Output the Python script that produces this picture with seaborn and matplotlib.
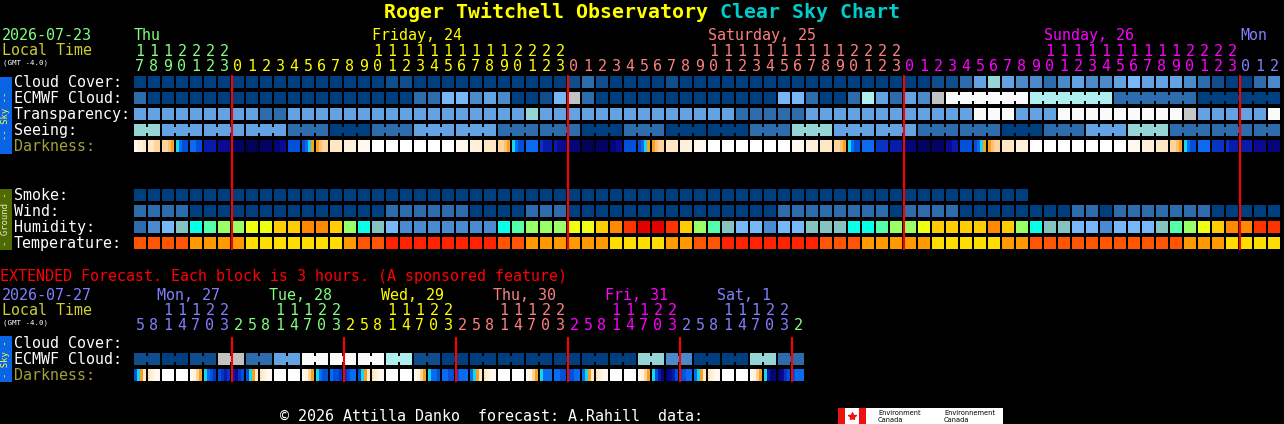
import numpy as np
import matplotlib
matplotlib.use("Agg")
import matplotlib.pyplot as plt
from matplotlib.patches import Rectangle
import seaborn as sns

# ---------------- dados ----------------
title_site = "Roger Twitchell Observatory "
title_chart = "Clear Sky Chart"
start_date = "2026-07-23"
ext_start_date = "2026-07-27"
ext_note = "EXTENDED Forecast. Each block is 3 hours. (A sponsored feature)"
footer = "\u00a9 2026 Attilla Danko  forecast: A.Rahill  data:"

day_names = ["Thu", "Friday, 24", "Saturday, 25", "Sunday, 26", "Mon"]
day_colors = ["#80FF80", "#FFFF00", "#FF8080", "#FF00FF", "#8080FF"]
day_hours = [
    [17, 18, 19, 20, 21, 22, 23],
    [0, 1, 2, 3, 4, 5, 6, 7, 8, 9, 10, 11, 12, 13, 14, 15, 16, 17, 18, 19, 20, 21, 22, 23],
    [0, 1, 2, 3, 4, 5, 6, 7, 8, 9, 10, 11, 12, 13, 14, 15, 16, 17, 18, 19, 20, 21, 22, 23],
    [0, 1, 2, 3, 4, 5, 6, 7, 8, 9, 10, 11, 12, 13, 14, 15, 16, 17, 18, 19, 20, 21, 22, 23],
    [0, 1, 2],
]

# nuvens: 0 = limpo ... X = encoberto
cloud_cover = ("0000000000" "0000000011" "0000000000" "0121000010" "0000000000"
               "0000000112" "4643323433" "4544432100" "23")
ecmwf_cloud = ("2000000000" "0000000000" "2255343001" "5820000000" "0000005520"
               "02742438XX" "XXXX777777" "2222220000" "00")
ecmwf_chunks = [1] * 58 + [6, 6, 6, 6]
# transparencia / seeing: 5 = otimo ... 0 = nublado demais
transparency = ("3333333334" "4333333333" "3333333323" "3333333333" "3334444433"
                "3333333333" "0003330000" "0000013333" "30")
seeing_vals = "2333454334454554233445432444"
seeing_chunks = [2] + [3] * 26 + [2]
# escuridao: 4 faixas por bloco
darkness = [
    "abbc", "ccdd", "ddeo", "CLBB", "LLBB", "NNNN", "DDDD",
    "FFFF", "GGGG", "FFFF", "EEDD", "BBBB", "BLCo", "oedd", "cccc", "bbbb", "aaaa",
    "WWWW", "WWWW", "WWWW", "WWWW", "WWWW", "WWWW", "aaaa", "bbbb", "cccc", "ddeo",
    "CLBB", "LLLL", "MNNN", "NDDD",
    "EEEE", "GGGG", "FFFF", "EEDD", "BBBB", "BLCo", "oedd", "cccc", "bbbb", "aaaa",
    "WWWW", "WWWW", "WWWW", "WWWW", "WWWW", "WWWW", "aaaa", "bbbb", "cccc", "ddeo",
    "CLBB", "LLLL", "MMMM", "NNNN",
    "EEEE", "FFFF", "FFFF", "DDNN", "BBBB", "BLCo", "oedd", "cccc", "bbbb", "WWWW",
    "WWWW", "WWWW", "WWWW", "WWWW", "WWWW", "WWWW", "aaaa", "bbbb", "cccc", "ddeo",
    "CLBB", "LLLL", "MMMM", "MNNN",
    "NNNN", "DDDD", "EEEE",
]
smoke = ("0000000000" "0000000000" "0000000000" "0000000000" "0000000000"
         "0000000000" "0000------" "----------" "--")
wind = ("1111000000" "0000000011" "1111000011" "1000000000" "0000001111"
        "1111011110" "0000000110" "1111111000" "00")
humidity = ("1234567788" "99AA975432" "2222225677" "7889ABCCB9" "7643323344"
            "4556778999" "9A97544332" "33346789AA" "BB")
temperature = ("ooooaaaayy" "yyyyyaoorr" "rrrrrrooaa" "aaaayyyyaa" "oorrrrrrro"
               "ooaaaaayyy" "yyaaoooooo" "oooooaaayy" "yy")

# previsao estendida (blocos de 3 h)
ext_day_names = ["Mon, 27", "Tue, 28", "Wed, 29", "Thu, 30", "Fri, 31", "Sat, 1", ""]
ext_day_colors = ["#8080FF", "#80FF80", "#FFFF00", "#FF8080", "#FF00FF", "#8080FF", "#80FF80"]
ext_day_hours = [
    [5, 8, 11, 14, 17, 20, 23],
    [2, 5, 8, 11, 14, 17, 20, 23],
    [2, 5, 8, 11, 14, 17, 20, 23],
    [2, 5, 8, 11, 14, 17, 20, 23],
    [2, 5, 8, 11, 14, 17, 20, 23],
    [2, 5, 8, 11, 14, 17, 20, 23],
    [2],
]
# ECMWF estendido: um valor a cada 6 h (2 blocos)
ext_ecmwf_vals = "101824XXX710000000630062"
ext_darkness = [
    "BCoc", "cbaa", "WWWW", "WWWW", "abdo", "CLBM", "BMNM",
    "NDMB", "BCoc", "cbaa", "WWWW", "WWWW", "abdo", "CLBB", "LBBM",
    "MBLL", "BCoc", "cbaa", "WWWW", "WWWW", "abdo", "CLLB", "LLBB",
    "BLLL", "LCoc", "cbaa", "WWWW", "WWWW", "abdo", "CLLL", "LLBB",
    "BBLL", "LCoc", "cbaa", "WWWW", "WWWW", "abdo", "CBNE", "EDNB",
    "BBLL", "LCoc", "cbaa", "WWWW", "WWWW", "abdo", "CNEE", "EDMB",
    "BLLL",
]

# ---------------- cores ----------------
cloud_colors = {"0": "#003F7F", "1": "#0F4D8D", "2": "#2C6CAC", "3": "#4A8ACA",
                "4": "#63A3E3", "5": "#77B7F7", "6": "#95D5D5", "7": "#AEEEEE",
                "8": "#C2C2C2", "X": "#FBFBFB"}
sky_colors = {"5": "#003F7F", "4": "#2C6CAC", "3": "#63A3E3", "2": "#95D5D5",
              "1": "#C7C7C7", "0": "#FAFAFA"}
dark_colors = {"W": "#FFFFFF", "a": "#FFF8EE", "b": "#FFF0DC", "c": "#FFE6C4",
               "d": "#FFD49A", "e": "#FCC070", "o": "#F5A023", "C": "#18D8E8",
               "L": "#0A6AF0", "B": "#0050DC", "M": "#0834C4", "N": "#081CAC",
               "D": "#0A0A94", "E": "#05057A", "F": "#030364", "G": "#020256"}
smoke_colors = {"0": "#003F7F"}
wind_colors = {"0": "#003F7F", "1": "#2C6CAC"}
hum_colors = {"1": "#2C6CAC", "2": "#4A8AD0", "3": "#77B7F7", "4": "#85C2C2",
              "5": "#08FFE8", "6": "#55FFAA", "7": "#99FF66", "8": "#EEFF11",
              "9": "#FFCC00", "A": "#FF8800", "B": "#FF3300", "C": "#E50000"}
temp_colors = {"r": "#FF2200", "o": "#FF5500", "a": "#FF9900", "y": "#FFDD00"}

# ---------------- layout ----------------
X0, PITCH, BLOCK = 134, 14, 12
FS = 10.8
MONO = ["DejaVu Sans Mono", "DejaVu Sans"]

sns.set_theme(style="dark", rc={"axes.facecolor": "black", "figure.facecolor": "black"})
plt.rcParams["font.family"] = MONO

fig = plt.figure(figsize=(12.84, 4.24), dpi=100)
ax = fig.add_axes([0, 0, 1, 1])
ax.set_xlim(0, 1284)
ax.set_ylim(424, 0)
ax.axis("off")


def cols_x(n):
    return X0 + PITCH * np.arange(n)


def draw_row(codes, palette, top):
    xs = cols_x(len(codes))
    keep = [i for i, c in enumerate(codes) if c in palette]
    ax.bar(xs[keep], BLOCK, width=BLOCK, bottom=top, align="edge",
           color=[palette[codes[i]] for i in keep], linewidth=0)


def draw_necks(codes, palette, chunks, top):
    # liga os blocos de um mesmo intervalo com uma faixa estreita
    xs = cols_x(len(codes))
    nx, nc = [], []
    i = 0
    for n in chunks:
        for j in range(i, i + n - 1):
            nx.append(xs[j] + BLOCK)
            nc.append(palette[codes[j]])
        i += n
    if nx:
        ax.bar(nx, 6, width=PITCH - BLOCK, bottom=top + 3, align="edge",
               color=nc, linewidth=0)


def draw_dark(strips, top):
    xs = cols_x(len(strips))
    sub = BLOCK / 4
    for k in range(4):
        ax.bar(xs + k * sub, BLOCK, width=sub, bottom=top, align="edge",
               color=[dark_colors[s[k]] for s in strips], linewidth=0)


def txt(x, y, s, color="white", size=FS, **kw):
    ax.text(x, y, s, color=color, fontsize=size, va="baseline", ha="left", **kw)


def hour_labels(hours_by_day, colors, names, y_name, y_tens, y_units, name_dx=0):
    col = 0
    starts = []
    for d, hrs in enumerate(hours_by_day):
        starts.append(col)
        lab_col = next((col + k for k, h in enumerate(hrs) if h >= 10), col)
        if names[d]:
            txt(X0 + PITCH * lab_col + name_dx, y_name, names[d], colors[d])
        for k, h in enumerate(hrs):
            xc = X0 + PITCH * (col + k) + 6
            if h >= 10:
                ax.text(xc, y_tens, str(h // 10), color=colors[d], fontsize=FS,
                        ha="center", va="baseline")
            ax.text(xc, y_units, str(h % 10), color=colors[d], fontsize=FS,
                    ha="center", va="baseline")
        col += len(hrs)
    return starts


# titulo
txt(384, 18, title_site, "#FFFF00", 14.3, fontweight="bold")
txt(384 + 12 * len(title_site), 18, title_chart, "#00CCCC", 14.3, fontweight="bold")

# cabecalho principal
txt(2, 40, start_date, "#80FF80")
txt(2, 55, "Local Time", "#CCCC33")
txt(3, 65, "(GMT -4.0)", "#FFFFFF", 5.4)
starts = hour_labels(day_hours, day_colors, day_names, 40, 56, 71)

# linhas do ceu
rows_sky = [76, 92, 108, 124, 140]
for lab, top, c in zip(["Cloud Cover:", "ECMWF Cloud:", "Transparency:", "Seeing:", "Darkness:"],
                       rows_sky, ["white"] * 4 + ["#A0A040"]):
    txt(14, top + 11, lab, c)

draw_row(cloud_cover, cloud_colors, rows_sky[0])
draw_row(ecmwf_cloud, cloud_colors, rows_sky[1])
draw_necks(ecmwf_cloud, cloud_colors, ecmwf_chunks, rows_sky[1])
draw_row(transparency, sky_colors, rows_sky[2])
seeing = "".join(v * n for v, n in zip(seeing_vals, seeing_chunks))
draw_row(seeing, sky_colors, rows_sky[3])
draw_necks(seeing, sky_colors, seeing_chunks, rows_sky[3])
draw_dark(darkness, rows_sky[4])

# linhas do solo
rows_gnd = [189, 205, 221, 237]
for lab, top in zip(["Smoke:", "Wind:", "Humidity:", "Temperature:"], rows_gnd):
    txt(14, top + 11, lab)
draw_row(smoke, smoke_colors, rows_gnd[0])
draw_row(wind, wind_colors, rows_gnd[1])
draw_row(humidity, hum_colors, rows_gnd[2])
draw_row(temperature, temp_colors, rows_gnd[3])

# barras laterais
ax.add_patch(Rectangle((0, 77), 12, 77, color="#0A64E6", lw=0))
ax.text(6, 115.5, "-- Sky --", rotation=90, color="#FFFF33", fontsize=6.5,
        ha="center", va="center")
ax.add_patch(Rectangle((0, 189), 12, 61, color="#4F6A00", lw=0))
ax.text(6, 219.5, "- Ground -", rotation=90, color="#E8E8C8", fontsize=6.5,
        ha="center", va="center")

# meia-noite
mid_x = [X0 + PITCH * s for s in starts[1:]]
ax.vlines(mid_x, 75, 250, color="#FF0000", lw=1.5)

# ---------------- previsao estendida ----------------
txt(0, 281, ext_note, "#FF0000")
txt(2, 300, ext_start_date, "#8080FF")
txt(2, 315, "Local Time", "#CCCC33")
txt(3, 324, "(GMT -4.0)", "#FFFFFF", 5.4)
ext_starts = hour_labels(ext_day_hours, ext_day_colors, ext_day_names, 300, 315, 330, name_dx=-5)

rows_ext = [337, 353, 369]
for lab, top, c in zip(["Cloud Cover:", "ECMWF Cloud:", "Darkness:"], rows_ext,
                       ["white", "white", "#A0A040"]):
    txt(14, top + 11, lab, c)
ext_ecmwf = "".join(v * 2 for v in ext_ecmwf_vals)
draw_row(ext_ecmwf, cloud_colors, rows_ext[1])
draw_necks(ext_ecmwf, cloud_colors, [2] * len(ext_ecmwf_vals), rows_ext[1])
draw_dark(ext_darkness, rows_ext[2])

ax.add_patch(Rectangle((0, 336), 12, 46, color="#0A64E6", lw=0))
ax.text(6, 359, "- Sky -", rotation=90, color="#FFFF33", fontsize=6.5,
        ha="center", va="center")
ext_mid_x = [X0 + PITCH * s for s in ext_starts[1:]]
ax.vlines(ext_mid_x, 337, 382, color="#FF0000", lw=1.5)

# ---------------- rodape ----------------
txt(280, 421, footer)
ax.add_patch(Rectangle((838, 408), 28, 16, color="white", lw=0))
ax.add_patch(Rectangle((838, 408), 7, 16, color="#EE1111", lw=0))
ax.add_patch(Rectangle((859, 408), 7, 16, color="#EE1111", lw=0))
ax.plot([852], [416], marker="*", color="#EE1111", markersize=6)
ax.add_patch(Rectangle((866, 408), 137, 16, color="white", lw=0))
ax.text(878, 415, "Environment", color="black", fontsize=4.8, family="DejaVu Sans")
ax.text(878, 422, "Canada", color="black", fontsize=4.8, family="DejaVu Sans")
ax.text(944, 415, "Environnement", color="black", fontsize=4.8, family="DejaVu Sans")
ax.text(944, 422, "Canada", color="black", fontsize=4.8, family="DejaVu Sans")

fig.savefig("out.png", dpi=100, facecolor="black")
